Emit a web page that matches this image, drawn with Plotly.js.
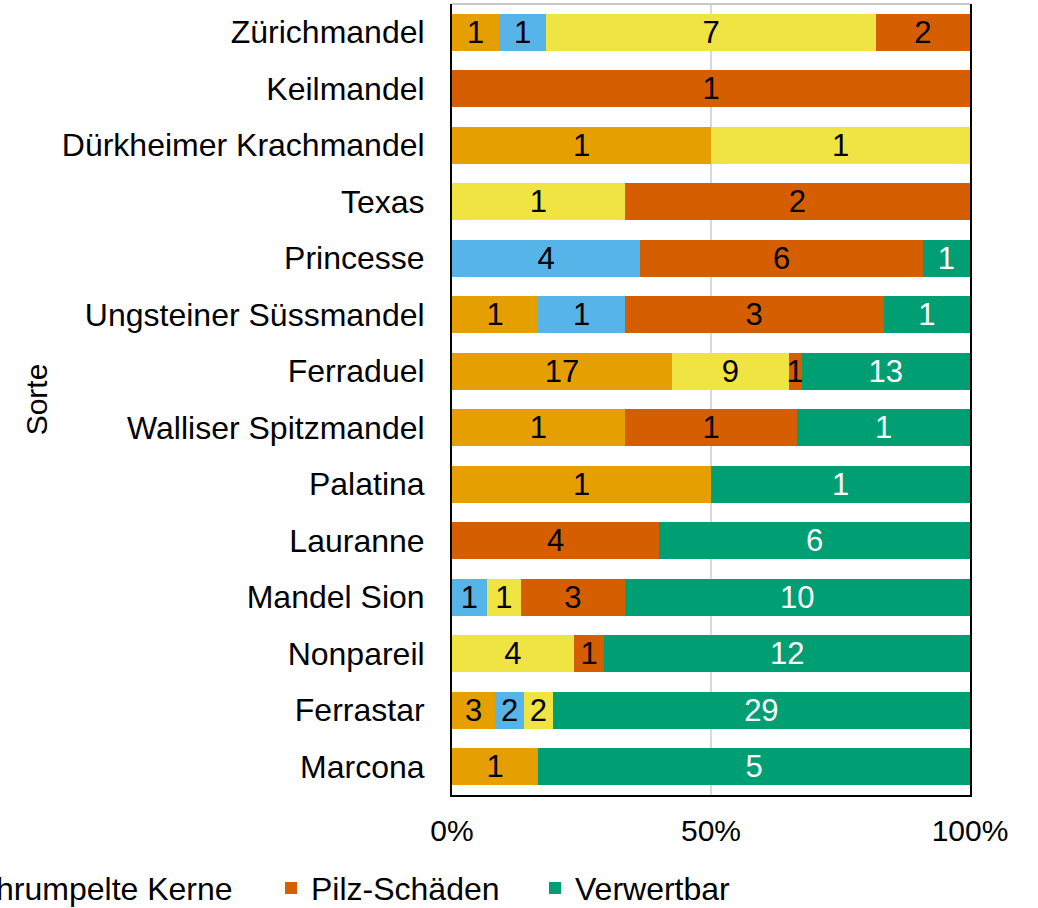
<!DOCTYPE html>
<html>
<head>
<meta charset="utf-8">
<script src="https://cdn.plot.ly/plotly-3.0.1.min.js"></script>
<style>
  html, body { margin: 0; padding: 0; overflow: hidden; background: #fff; }
  #wrap { position: relative; width: 1038px; height: 908px; overflow: hidden; }
  /* the legend runs past the left edge of the picture, so the figure is wider and shifted left */
  #vis { position: absolute; left: -600px; top: 0; width: 1638px; height: 908px; }
</style>
</head>
<body>
<div id="wrap"><div id="vis"></div></div>
<script>
const sorten = [
  'Zürichmandel', 'Keilmandel', 'Dürkheimer Krachmandel', 'Texas', 'Princesse',
  'Ungsteiner Süssmandel', 'Ferraduel', 'Walliser Spitzmandel', 'Palatina',
  'Lauranne', 'Mandel Sion', 'Nonpareil', 'Ferrastar', 'Marcona'
]

const doppelkerne = [1, 0, 1, 0, 0, 1, 17, 1, 1, 0, 0, 0, 3, 1]
const leereKerne = [1, 0, 0, 0, 4, 1, 0, 0, 0, 0, 1, 0, 2, 0]
const verschrumpelt = [7, 0, 1, 1, 0, 0, 9, 0, 0, 0, 1, 4, 2, 0]
const pilzSchaeden = [2, 1, 0, 2, 6, 3, 1, 1, 0, 4, 3, 1, 0, 0]
const verwertbar = [0, 0, 0, 0, 1, 1, 13, 1, 1, 6, 10, 12, 29, 5]

const serienNamen = ['Doppelkerne', 'Leere Kerne', 'Verschrumpelte Kerne', 'Pilz-Schäden', 'Verwertbar']
const xTicks = [0, 50, 100]
const xTickLabels = ['0%', '50%', '100%']

const FONT = 'Liberation Sans, Arial, sans-serif'
const farben = ['#E69F00', '#56B4E9', '#F0E442', '#D55E00', '#009E73']
const textFarben = ['#000000', '#000000', '#000000', '#000000', '#ffffff']
const legendBreiten = [182, 188, 350, 219, 188]

function makeTrace (values, i) {
  return {
    type: 'bar',
    orientation: 'h',
    name: serienNamen[i],
    y: sorten,
    x: values,
    text: values.map(v => (v > 0 ? String(v) : '')),
    textposition: 'inside',
    insidetextanchor: 'middle',
    textangle: 0,
    constraintext: 'none',
    insidetextfont: { family: FONT, size: 31, color: textFarben[i] },
    marker: { color: farben[i], line: { width: 0 } },
    legendwidth: legendBreiten[i],
    hoverinfo: 'skip'
  }
}

function render () {
  const serien = [doppelkerne, leereKerne, verschrumpelt, pilzSchaeden, verwertbar]
  const traces = serien.map(makeTrace)

  const layout = {
    width: 1638,
    height: 908,
    margin: { l: 1052, r: 68, t: 4, b: 113, autoexpand: false },
    paper_bgcolor: '#ffffff',
    plot_bgcolor: '#ffffff',
    font: { family: FONT, size: 32, color: '#000000' },
    barmode: 'stack',
    barnorm: 'percent',
    bargap: 0.35,
    uniformtext: { mode: 'show', minsize: 31 },
    xaxis: {
      range: [0, 100],
      tickmode: 'array',
      tickvals: xTicks,
      ticktext: xTickLabels,
      ticks: 'outside',
      ticklen: 8,
      tickcolor: 'rgba(0,0,0,0)',
      tickfont: { family: FONT, size: 30, color: '#000000' },
      showgrid: true,
      gridcolor: '#d9d9d9',
      gridwidth: 2,
      zeroline: false,
      showline: true,
      linecolor: '#000000',
      linewidth: 2,
      fixedrange: true
    },
    yaxis: {
      type: 'category',
      autorange: 'reversed',
      ticks: 'outside',
      ticklen: 19,
      tickcolor: 'rgba(0,0,0,0)',
      tickfont: { family: FONT, size: 32, color: '#000000' },
      showline: true,
      mirror: true,
      linecolor: '#000000',
      linewidth: 2,
      showgrid: false,
      title: { text: 'Sorte', font: { family: FONT, size: 30, color: '#000000' }, standoff: 5 },
      fixedrange: true
    },
    shapes: [
      {
        type: 'line',
        xref: 'paper',
        yref: 'paper',
        x0: 0,
        x1: 1,
        y0: 1,
        y1: 1,
        line: { color: '#c8c8c8', width: 2 }
      }
    ],
    showlegend: true,
    legend: {
      orientation: 'h',
      traceorder: 'normal',
      xref: 'paper',
      yref: 'paper',
      x: -2,
      xanchor: 'left',
      y: -0.083,
      yanchor: 'top',
      font: { family: FONT, size: 32, color: '#000000' },
      bgcolor: 'rgba(0,0,0,0)'
    }
  }

  const config = { staticPlot: true, displayModeBar: false }

  return Plotly.newPlot('vis', traces, layout, config)
}

render()
</script>
</body>
</html>
